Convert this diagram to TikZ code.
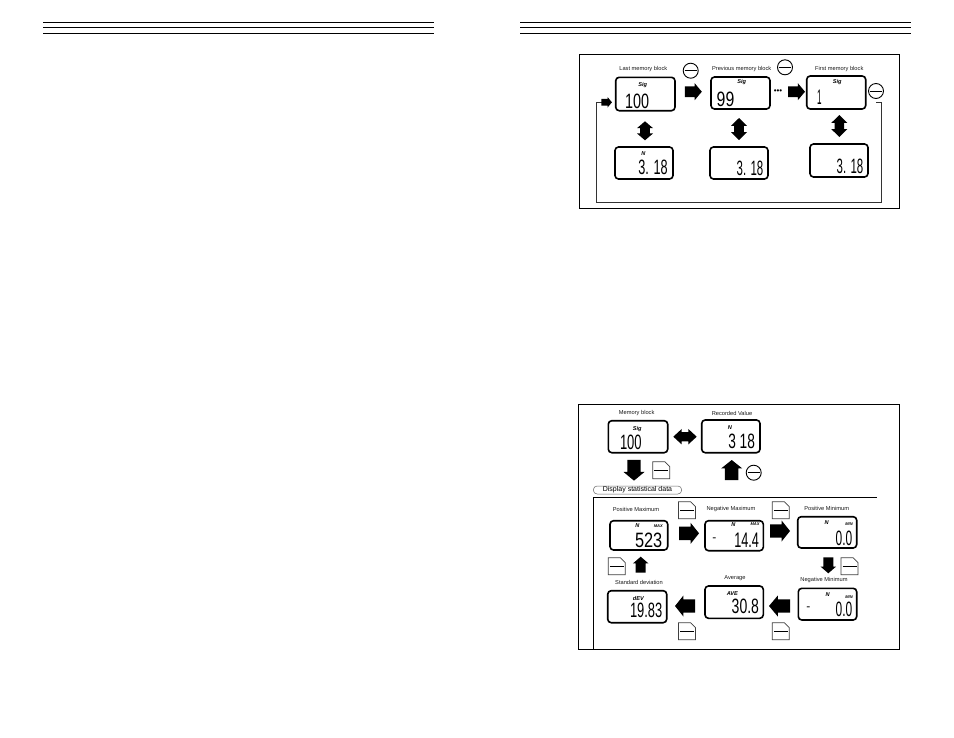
\documentclass[tikz,border=0pt]{standalone}
\usepackage{fontspec}
\usepackage{graphicx}
\setmainfont{Liberation Sans}
\tikzset{
  x=1pt,y=-1pt,
  rule/.style={line width=1.3pt,black},
  panel/.style={line width=0.9pt,black},
  lcdbox/.style={draw=black,line width=1.6pt,rounded corners=3.5pt,fill=white,inner sep=0pt},
  caption/.style={font=\fontsize{5.7}{6}\selectfont,inner sep=0pt,text=black!90},
  seg/.style={font=\fontsize{5.6}{6}\selectfont\itshape\bfseries,inner sep=0pt},
  tiny seg/.style={font=\fontsize{4}{5}\selectfont\itshape\bfseries,inner sep=0pt},
  minusbtn/.style={circle,draw=black,line width=0.9pt,minimum size=15pt,inner sep=0pt,fill=white,
    path picture={\draw[line width=1pt] ([xshift=1.5pt]path picture bounding box.west) -- ([xshift=-1.5pt]path picture bounding box.east);}},
  feedback/.style={line width=0.6pt,black!80},
}
% name, left, top, right, bottom
\newcommand{\lcdpanel}[5]{%
  \pgfmathsetmacro{\cxv}{(#2+#4)/2}\pgfmathsetmacro{\cyv}{(#3+#5)/2}%
  \pgfmathsetmacro{\wv}{#4-#2}\pgfmathsetmacro{\hv}{#5-#3}%
  \node[lcdbox,minimum width=\wv pt,minimum height=\hv pt] (#1) at (\cxv,\cyv) {};}
% name, left, right, centre y, text
\newcommand{\lcdnum}[5]{%
  \pgfmathsetmacro{\cxv}{(#2+#3)/2}\pgfmathsetmacro{\wv}{#3-#2}%
  \node[inner sep=0pt] (#1) at (\cxv,#4) {\resizebox{\wv pt}{14.5pt}{#5}};}
% x, y, length, width, rotation
\newcommand{\blockarrow}[5]{%
  \begin{scope}[shift={(#1,#2)},rotate=#5]
    \fill[black] (-#3/2,-#4*0.32) -- (#3*0.08,-#4*0.32) -- (#3*0.08,-#4/2) -- (#3/2,0)
      -- (#3*0.08,#4/2) -- (#3*0.08,#4*0.32) -- (-#3/2,#4*0.32) -- cycle;
  \end{scope}}
\newcommand{\doublearrow}[5]{%
  \begin{scope}[shift={(#1,#2)},rotate=#5]
    \fill[black] (-#3/2,0) -- (-#3*0.14,-#4/2) -- (-#3*0.14,-#4*0.3) -- (#3*0.14,-#4*0.3)
      -- (#3*0.14,-#4/2) -- (#3/2,0) -- (#3*0.14,#4/2) -- (#3*0.14,#4*0.3)
      -- (-#3*0.14,#4*0.3) -- (-#3*0.14,#4/2) -- cycle;
  \end{scope}}
% left, top: folded page button
\newcommand{\pagebtn}[2]{%
  \begin{scope}[shift={(#1,#2)}]
    \fill[white] (0,0) -- (12,0) -- (17,5) -- (17,17) -- (0,17) -- cycle;
    \draw[line width=0.7pt,black!75] (0,0) -- (12,0) -- (17,5) -- (17,17) -- (0,17) -- cycle;
    \draw[line width=1pt,black] (1.5,8.5) -- (15.5,8.5);
  \end{scope}}
\begin{document}
\begin{tikzpicture}
\useasboundingbox (0,0) rectangle (954,737);
\fill[white] (0,0) rectangle (954,737);
% page header rules
\foreach \ry in {22.3,27.5,33.2}{
  \draw[rule] (43,\ry) -- (434,\ry);
  \draw[rule] (520,\ry) -- (911,\ry);
}
% ---------- top panel
\draw[panel] (579.8,54.6) rectangle (899.6,208.5);
\node[caption] (capA) at (643.3,69.3) {Last memory block};
\node[caption] (capB) at (741.7,69.3) {Previous memory block};
\node[caption] (capC) at (839.3,69.3) {First memory block};
\lcdpanel{a1}{615.7}{77.3}{675}{110.7}
\lcdpanel{a2}{711}{77}{770}{109}
\lcdpanel{a3}{806.7}{76}{865.7}{109}
\lcdpanel{b1}{615}{147}{673}{179}
\lcdpanel{b2}{710}{147}{768}{179}
\lcdpanel{b3}{810}{144}{868}{177}
\node[seg] (sa1) at (642.7,85) {Sig};
\node[seg] (sa2) at (741.7,82.3) {Sig};
\node[seg] (sa3) at (837.3,82.3) {Sig};
\node[seg] (nb1) at (643.3,154) {N};
\lcdnum{va1}{625}{649}{101.7}{100}
\lcdnum{va2}{716.7}{734.3}{99.3}{99}
\lcdnum{va3}{817}{821.5}{97.7}{1}
\lcdnum{vb1}{638.3}{667.7}{167.3}{3. 18}
\lcdnum{vb2}{736.7}{763.3}{168.3}{3. 18}
\lcdnum{vb3}{836.7}{863.3}{166.7}{3. 18}
\node[minusbtn] (m1) at (690.7,70.7) {};
\node[minusbtn] (m2) at (785,67.3) {};
\node[minusbtn] (m3) at (876,91) {};
\blockarrow{693.3}{91.7}{17}{17}{0}
\blockarrow{796.5}{91.7}{17}{17}{0}
\node[font=\fontsize{8}{8}\selectfont,inner sep=0pt] (dots) at (778,91.7) {•••};
\doublearrow{645}{130.8}{19}{16}{90}
\doublearrow{739}{129}{22}{16}{90}
\doublearrow{839.3}{126}{22}{16}{90}
\coordinate (fbS) at (876,102.3);
\coordinate (fbA) at (881,102.3);
\coordinate (fbB) at (881,202.7);
\coordinate (fbC) at (596,202.7);
\coordinate (fbD) at (596,102.3);
\coordinate (fbE) at (602,102.3);
\draw[feedback] (fbS) -- (fbA) -- (fbB) -- (fbC) -- (fbD) -- (fbE);
\blockarrow{606.7}{102.3}{10.5}{10.5}{0}
% ---------- bottom panel
\draw[panel] (578.5,404.4) rectangle (899.4,649.6);
\coordinate (inTop) at (593.3,497.7);
\coordinate (inRight) at (876.7,497.7);
\coordinate (inBot) at (593.3,649.6);
\draw[line width=0.7pt] (inRight) -- (inTop) -- (inBot);
\node[draw=black!60,line width=0.5pt,rounded corners=3.8pt,minimum width=88.4pt,minimum height=8pt,inner sep=0pt,
  font=\fontsize{7}{7}\selectfont,fill=white] (pill) at (637.5,490) {Display statistical data};
\node[caption] (capM) at (636.7,413.3) {Memory block};
\node[caption] (capR) at (732,413.3) {Recorded Value};
\node[caption] (capPX) at (636,509) {Positive Maximum};
\node[caption] (capNX) at (731,509) {Negative Maximum};
\node[caption] (capPN) at (826.7,508.3) {Positive Minimum};
\node[caption] (capSD) at (639,582.3) {Standard deviation};
\node[caption] (capAV) at (735,577.7) {Average};
\node[caption] (capNN) at (824,580) {Negative Minimum};
\lcdpanel{c1}{608.3}{420.7}{667.7}{452.7}
\lcdpanel{c2}{701.7}{420}{760}{452.7}
\lcdpanel{d1}{610}{520.7}{667.7}{550}
\lcdpanel{d2}{705}{520.7}{763.3}{550.7}
\lcdpanel{d3}{797.7}{516.7}{856.7}{548}
\lcdpanel{e1}{607.7}{590.7}{666.7}{622.7}
\lcdpanel{e2}{705}{586}{763.3}{618.3}
\lcdpanel{e3}{798.3}{588.3}{856.7}{620}
\node[seg] (sc1) at (637.3,429.3) {Sig};
\node[seg] (nc2) at (730,427.7) {N};
\node[seg] (nd1) at (637.3,525.7) {N};
\node[tiny seg] (xd1) at (658.3,525.7) {MAX};
\node[seg] (nd2) at (733.3,524.3) {N};
\node[tiny seg] (xd2) at (755,524.3) {MAX};
\node[seg] (nd3) at (826.7,522.7) {N};
\node[tiny seg] (xd3) at (849,524) {MIN};
\node[seg] (se1) at (638.3,598.3) {dEV};
\node[seg] (se2) at (732.3,594) {AVE};
\node[seg] (ne3) at (827.7,595) {N};
\node[tiny seg] (xe3) at (849,597.3) {MIN};
\lcdnum{vc1}{620}{641.7}{442.3}{100}
\lcdnum{vc2}{728.3}{755}{441.7}{3 18}
\lcdnum{vd1}{635}{662.3}{540.7}{523}
\lcdnum{vd2}{734.3}{759}{540}{14.4}
\lcdnum{vd3}{835.7}{852.3}{538.3}{0.0}
\lcdnum{ve1}{630}{662.3}{610}{19.83}
\lcdnum{ve2}{731.7}{759}{606}{30.8}
\lcdnum{ve3}{835.7}{852.3}{609.3}{0.0}
\node[inner sep=0pt,font=\fontsize{12}{12}\selectfont] (md2) at (714.3,540) {-};
\node[inner sep=0pt,font=\fontsize{12}{12}\selectfont] (me3) at (808.3,608.3) {-};
\doublearrow{685}{436.7}{23.4}{15.5}{0}
\blockarrow{634}{470.3}{20.7}{21}{-90}
\blockarrow{731.7}{470}{20}{21}{90}
\pagebtn{652.8}{461.7}
\node[minusbtn] (m4) at (753.7,472.7) {};
\pagebtn{678.5}{501.7}
\pagebtn{772.3}{501.7}
\blockarrow{689}{533.3}{20}{21}{0}
\blockarrow{780}{531}{20}{21}{0}
\pagebtn{608.3}{557.7}
\blockarrow{640.7}{564.7}{16}{15.5}{90}
\blockarrow{828.3}{565.3}{16}{15.5}{-90}
\pagebtn{841}{557.7}
\blockarrow{685}{606}{20}{21}{180}
\blockarrow{779.5}{606}{21}{21}{180}
\pagebtn{678.5}{622.7}
\pagebtn{772.3}{622.7}
\end{tikzpicture}
\end{document}
